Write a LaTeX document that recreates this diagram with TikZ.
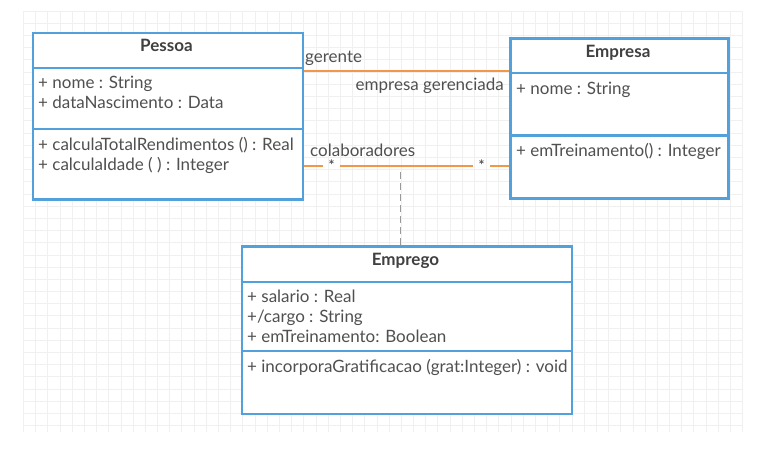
\documentclass[tikz,border=0pt]{standalone}
\usepackage{fontspec}
\setmainfont{Lato}
\usetikzlibrary{calc}
\definecolor{umlblue}{RGB}{82,160,220}
\definecolor{umlorange}{RGB}{240,152,72}
\definecolor{umltext}{RGB}{80,80,80}
\definecolor{umltitle}{RGB}{64,64,64}
\definecolor{gridc}{RGB}{240,240,240}
\begin{document}
\begin{tikzpicture}[x=1pt,y=-1pt,
  classbox/.style={draw=umlblue,line width=2.8pt,fill=white,rectangle,anchor=north west,inner sep=0pt},
  divider/.style={draw=umlblue,line width=2.8pt},
  title/.style={font=\fontsize{17}{19}\selectfont\bfseries,text=umltitle,anchor=base,inner sep=0pt},
  member/.style={font=\fontsize{17}{19}\selectfont,text=umltext,anchor=base west,inner sep=0pt},
  rolelabel/.style={font=\fontsize{17}{19}\selectfont,text=umltext,inner sep=0pt},
  multlabel/.style={font=\fontsize{14}{15}\selectfont\bfseries,text=umltext,anchor=base,inner sep=0pt,minimum width=17pt},
  assoc/.style={draw=umlorange,line width=2.4pt},
  assocdash/.style={draw=gray!80,line width=1.6pt,dash pattern=on 7pt off 4pt}
]
\useasboundingbox (0,0) rectangle (768,472);
\fill[white] (0,0) rectangle (768,472);
% grid
\foreach \i in {0,...,59} {\draw[gridc,line width=0.6pt] ({23.3+12.19*\i},11) -- ({23.3+12.19*\i},432);}
\foreach \j in {0,...,34} {\draw[gridc,line width=0.6pt] (23.3,{11+12.19*\j}) -- (742.5,{11+12.19*\j});}

% Pessoa
\node[classbox,minimum width=270pt,minimum height=166.5pt] (pessoa) at (31.5,31.5) {};
\draw[divider] ($(pessoa.north west)+(0,36.5)$) -- ($(pessoa.north east)+(0,36.5)$);
\draw[divider] ($(pessoa.north west)+(0,97.5)$) -- ($(pessoa.north east)+(0,97.5)$);
\node[title] (pessoaT) at (166.5,51.5) {Pessoa};
\node[member] (p1) at (38,88) {+ nome : String};
\node[member] (p2) at (38,108) {+ dataNascimento : Data};
\node[member] (p3) at (38,150) {+ calculaTotalRendimentos () : Real};
\node[member] (p4) at (38,170) {+ calculaIdade ( ) : Integer};

% Empresa
\node[classbox,minimum width=218pt,minimum height=160pt] (empresa) at (509,37) {};
\draw[divider] ($(empresa.north west)+(0,36)$) -- ($(empresa.north east)+(0,36)$);
\draw[divider] ($(empresa.north west)+(0,98.5)$) -- ($(empresa.north east)+(0,98.5)$);
\node[title] (empresaT) at (618,57) {Empresa};
\node[member] (e1) at (516,94) {+ nome : String};
\node[member] (e2) at (516,156) {+ emTreinamento() : Integer};

% Emprego
\node[classbox,minimum width=330pt,minimum height=167.5pt] (emprego) at (240.5,245) {};
\draw[divider] ($(emprego.north west)+(0,37)$) -- ($(emprego.north east)+(0,37)$);
\draw[divider] ($(emprego.north west)+(0,106)$) -- ($(emprego.north east)+(0,106)$);
\node[title] (empregoT) at (405.5,265) {Emprego};
\node[member] (m1) at (247,302) {+ salario : Real};
\node[member] (m2) at (247,322) {+/cargo : String};
\node[member] (m3) at (247,342) {+ emTreinamento: Boolean};
\node[member] (m4) at (247,372) {+ incorporaGratificacao (grat:Integer) : void};

% gerente association
\coordinate (gerY) at (0,71);
\draw[assoc] (pessoa.east |- gerY) -- (empresa.west |- gerY);
\node[rolelabel,anchor=base west] (gerente) at (305,62) {gerente};
\node[rolelabel,anchor=base east] (gerenciada) at (504,90) {empresa gerenciada};

% colaboradores association
\coordinate (colY) at (0,166);
\node[multlabel] (star1) at (331.5,170) {*};
\node[multlabel] (star2) at (481.5,170) {*};
\draw[assoc] (pessoa.east |- colY) -- (star1.west |- colY);
\draw[assoc] (star1.east |- colY) -- (star2.west |- colY);
\draw[assoc] (star2.east |- colY) -- (empresa.west |- colY);
\node[rolelabel,anchor=base west] (colab) at (310,156) {colaboradores};

% association class link
\coordinate (assocpt) at (400.5,172);
\draw[assocdash] (assocpt) -- (assocpt |- emprego.north);
\end{tikzpicture}
\end{document}
